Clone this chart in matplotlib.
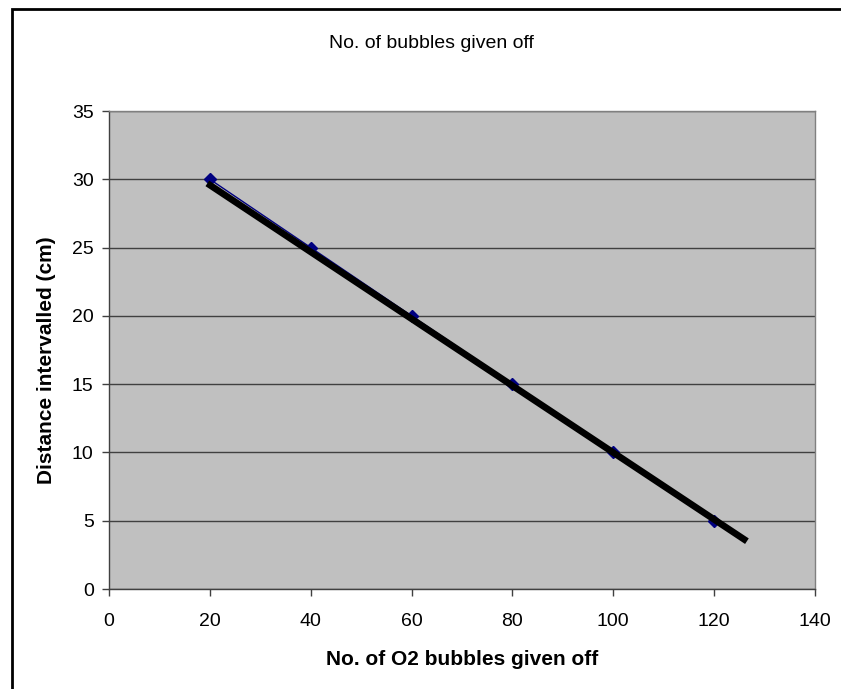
import numpy as np
import matplotlib.pyplot as plt
from matplotlib.patches import Rectangle

plt.rcParams['font.family'] = ['Liberation Sans', 'DejaVu Sans']

# bubble counts vs distance of the lamp
bubbles = [20, 40, 60, 80, 100, 120]
distance = [30, 25, 20, 15, 10, 5]

# hand drawn best fit line (end points)
trend_x = [19.5, 126.5]
trend_y = [29.7, 3.5]

x_ticks = np.arange(0, 141, 20)
y_ticks = np.arange(0, 36, 5)

W, H = 841, 689
fig = plt.figure(figsize=(W/100, H/100), dpi=100)

# outer chart frame, runs off the right and bottom edges
fig.patches.append(Rectangle((12/W, -0.1), 1.2, 1.1 - 9.5/H,
                             transform=fig.transFigure, fill=False,
                             edgecolor='black', linewidth=2, zorder=0))

ax = fig.add_axes([109/W, 1 - 589/H, 706/W, 478/H])
ax.set_facecolor('#C0C0C0')

ax.plot(bubbles, distance, color='#000080', linewidth=1, marker='D',
        markersize=6, markerfacecolor='#000080', markeredgecolor='#000080', zorder=3)
ax.plot(trend_x, trend_y, color='black', linewidth=4.8, solid_capstyle='butt', zorder=4)

ax.set_xlim(0, 140)
ax.set_ylim(0, 35)
ax.set_xticks(x_ticks)
ax.set_yticks(y_ticks)
ax.yaxis.grid(True, color='#404040', linewidth=1)
ax.set_axisbelow(True)
ax.tick_params(direction='out', length=5, width=1, color='#404040', labelsize=14)
ax.tick_params(axis='x', pad=12)
ax.tick_params(axis='y', pad=6)

for s in ax.spines.values():
    s.set_color('#808080')
    s.set_linewidth(1)
ax.spines['left'].set_color('#404040')
ax.spines['bottom'].set_color('#404040')

fig.text(431/W, 1 - 48/H, 'No. of bubbles given off', ha='center', va='baseline', fontsize=14)
fig.text(462/W, 1 - 665/H, 'No. of O2 bubbles given off', ha='center', va='baseline',
         fontsize=15, fontweight='bold')
fig.text(47/W, 1 - 360/H, 'Distance intervalled (cm)', ha='center', va='center',
         rotation=90, fontsize=15, fontweight='bold')

fig.savefig('out.png', dpi=100)
